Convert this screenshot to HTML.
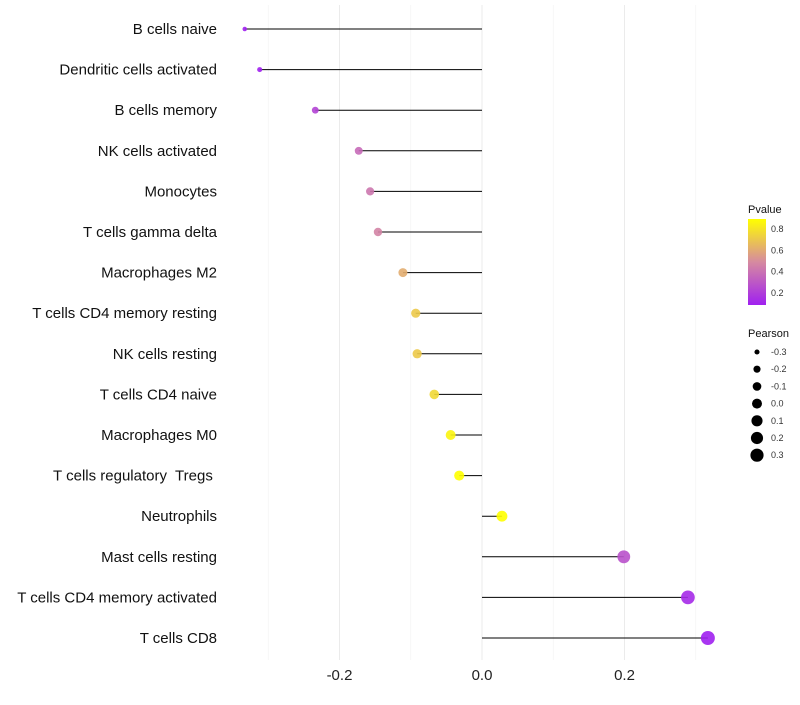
<!DOCTYPE html>
<html><head><meta charset="utf-8"><style>
body{margin:0;background:#fff;font-family:"Liberation Sans",sans-serif}
</style></head><body>
<svg id="c" width="800" height="700" xmlns="http://www.w3.org/2000/svg">
<defs><linearGradient id="g" x1="0" y1="1" x2="0" y2="0">
<stop offset="0" stop-color="#a020f0"/><stop offset="0.5" stop-color="#d68aa0"/><stop offset="1" stop-color="#ffff00"/></linearGradient></defs>
</svg>
<script>
const categories=["B cells naive","Dendritic cells activated","B cells memory","NK cells activated","Monocytes","T cells gamma delta","Macrophages M2","T cells CD4 memory resting","NK cells resting","T cells CD4 naive","Macrophages M0","T cells regulatory  Tregs ","Neutrophils","Mast cells resting","T cells CD4 memory activated","T cells CD8"];
const pearson=[-0.333,-0.312,-0.234,-0.173,-0.157,-0.146,-0.111,-0.093,-0.091,-0.067,-0.044,-0.032,0.028,0.199,0.289,0.317];
const pvalues=[0.05,0.06,0.2,0.35,0.4,0.45,0.6,0.7,0.7,0.75,0.85,0.9,0.9,0.25,0.1,0.05];
const xTicks=[-0.2,0,0.2];
const gridMinor=[-0.3,-0.1,0.1,0.3];
const sizeLegend=[-0.3,-0.2,-0.1,0.0,0.1,0.2,0.3];
const colorTicks=[0.2,0.4,0.6,0.8];
const svg=document.getElementById('c');const NS="http://www.w3.org/2000/svg";
function el(t,a,p){const e=document.createElementNS(NS,t);for(const k in a)e.setAttribute(k,a[k]);(p||svg).appendChild(e);return e;}
const x=v=>482+v*712.5;
const y=i=>29+i*40.6;
const r=v=>Math.sqrt(5+(v+0.333)/0.65*44);
function col(p){const t=Math.max(0,Math.min(1,(p-0.06)/0.83));
 const a=[160,32,240],m=[214,138,160],b=[255,255,0];
 let c;if(t<0.5){const s=t*2;c=a.map((v,i)=>v+(m[i]-v)*s);}else{const s=(t-0.5)*2;c=m.map((v,i)=>v+(b[i]-v)*s);}
 return `rgb(${c.map(Math.round).join(',')})`;}
gridMinor.forEach(v=>{const l=el('line',{x1:x(v),x2:x(v),y1:5,y2:660,stroke:'#f2f2f2','stroke-width':0.6});
});
xTicks.forEach(v=>{const l=el('line',{x1:x(v),x2:x(v),y1:5,y2:660,stroke:'#ebebeb','stroke-width':1});

const t=el('text',{x:x(v),y:680,'text-anchor':'middle','font-size':15,fill:'#222'});t.textContent=v===0?'0.0':v.toFixed(1);
});
categories.forEach((c,i)=>{
 const t=el('text',{x:217,y:y(i)+5,'text-anchor':'end','font-size':15,fill:'#111',style:'white-space:pre'});t.textContent=c;
 
 const l=el('line',{x1:x(0),x2:x(pearson[i]),y1:y(i),y2:y(i),stroke:'#000','stroke-width':1});
 
 const d=el('circle',{cx:x(pearson[i]),cy:y(i),r:r(pearson[i]),fill:col(pvalues[i]),'fill-opacity':0.9});
 
});
const lt=el('text',{x:748,y:213,'font-size':11,fill:'#111'});lt.textContent='Pvalue';

const cb=el('rect',{x:748,y:219,width:18,height:86,fill:'url(#g)'});

colorTicks.forEach(v=>{const yy=293-(v-0.2)/0.6*64;
 const t=el('text',{x:771,y:yy+3,'font-size':9,fill:'#333'});t.textContent=v.toFixed(1);
 });
const st=el('text',{x:748,y:337,'font-size':11,fill:'#111'});st.textContent='Pearson';

sizeLegend.forEach((v,i)=>{const yy=352+i*17.2;
 const d=el('circle',{cx:757,cy:yy,r:r(v)*0.95,fill:'#000'});
 
 const t=el('text',{x:771,y:yy+3,'font-size':9,fill:'#333'});t.textContent=v.toFixed(1);
 });
</script>
</body></html>
